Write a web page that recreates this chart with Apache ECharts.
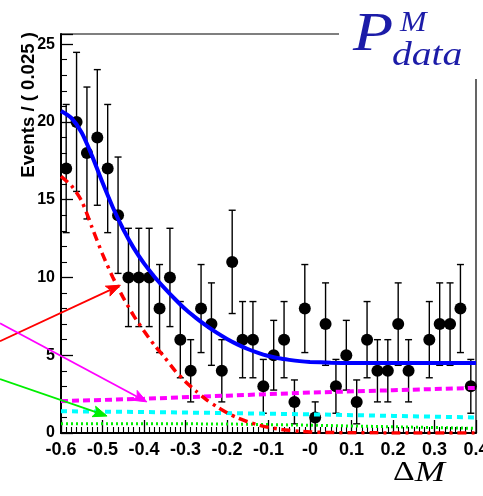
<!DOCTYPE html>
<html><head><meta charset="utf-8">
<script src="https://cdn.jsdelivr.net/npm/echarts@6/dist/echarts.min.js"></script>
<style>html,body{margin:0;padding:0;background:#fff}#c{width:483px;height:496px}</style>
</head><body><div id="c"></div>
<script>
// ---- data ----
const binCenters = [-0.5875,-0.5625,-0.5375,-0.5125,-0.4875,-0.4625,-0.4375,-0.4125,-0.3875,-0.3625,
  -0.3375,-0.3125,-0.2875,-0.2625,-0.2375,-0.2125,-0.1875,-0.1625,-0.1375,-0.1125,
  -0.0875,-0.0625,-0.0375,-0.0125,0.0125,0.0375,0.0625,0.0875,0.1125,0.1375,
  0.1625,0.1875,0.2125,0.2375,0.2625,0.2875,0.3125,0.3375,0.3625,0.3875];
const counts = [17,20,18,19,17,14,10,10,10,8,
  10,6,4,8,7,4,11,6,6,3,
  5,6,2,8,1,7,3,5,2,6,
  4,4,7,4,null,6,7,7,8,3];
const errors = [4.12,4.47,4.24,4.36,4.12,3.74,3.16,3.16,3.16,2.83,
  3.16,2.45,2.0,2.83,2.65,2.0,3.32,2.45,2.45,1.73,
  2.24,2.45,1.41,2.83,1.0,2.65,1.73,2.24,1.41,2.45,
  2.0,2.0,2.65,2.0,null,2.45,2.65,2.65,2.83,1.73];

const curveX = [-0.6,-0.575,-0.55,-0.525,-0.5,-0.475,-0.45,-0.425,-0.4,-0.375,-0.35,-0.325,-0.3,-0.275,
  -0.25,-0.225,-0.2,-0.175,-0.15,-0.125,-0.1,-0.075,-0.05,-0.025,0,0.05,0.1,0.15,0.2,0.25,0.3,0.35,0.4];
const totalFit = [20.7,20.25,19.3,17.8,16.1,14.5,13.1,11.9,10.9,10.05,9.3,8.6,7.95,7.4,
  6.9,6.45,6.05,5.7,5.4,5.15,4.95,4.8,4.7,4.62,4.57,4.52,4.5,4.5,4.5,4.5,4.5,4.5,4.5];
const signal = [16.5,15.9,14.9,13.2,11.5,10.0,8.7,7.55,6.55,5.65,4.85,4.0,3.3,2.7,
  2.15,1.7,1.3,0.98,0.72,0.52,0.36,0.25,0.17,0.11,0.07,0.03,0.015,0.01,0.005,0.0,0.0,0.0,0.0];

const bkgX = [-0.6,-0.4,-0.2,0,0.2,0.4];
const bkgMagenta = [2.05,2.2,2.4,2.6,2.75,2.9];
const bkgCyan = [1.4,1.35,1.28,1.2,1.1,1.0];
const bkgGreen = [0.6,0.6,0.58,0.5,0.4,0.3];

const xTickLabels = ['-0.6','-0.5','-0.4','-0.3','-0.2','-0.1','-0','0.1','0.2','0.3','0.4'];
const yTickLabels = ['0','5','10','15','20','25'];

// annotation arrows (data coordinates: tail -> head)
const arrowRed = [[-0.747,5.9],[-0.457,9.5]];
const arrowMagenta = [[-0.747,7.05],[-0.393,2.0]];
const arrowGreen = [[-0.747,3.47],[-0.489,1.09]];

// ---- chart ----
const pairs = (xs, ys) => xs.map((x,i)=>[x, ys[i]]);
const pts = [];
binCenters.forEach((x,i)=>{ if(counts[i]!=null) pts.push([x, counts[i], errors[i]]); });

const chart = echarts.init(document.getElementById('c'), null, {renderer:'canvas'});
const labelFont = {color:'#000', fontFamily:'Liberation Sans', fontWeight:'bold'};

const option = {
  animation:false,
  backgroundColor:'#fff',
  grid:{left:61, right:7, top:34, bottom:63, containLabel:false, outerBoundsMode:'none',
    show:true, borderColor:'#000', borderWidth:1.2, backgroundColor:'transparent'},
  xAxis:{type:'value', min:-0.6, max:0.4, interval:0.1,
    axisLine:{onZero:false, lineStyle:{color:'#000', width:2}},
    axisTick:{inside:true, length:13, lineStyle:{color:'#000', width:1.3}},
    minorTick:{show:true, splitNumber:8, length:6, lineStyle:{color:'#000', width:1.1}},
    splitLine:{show:false}, minorSplitLine:{show:false},
    axisLabel:Object.assign({fontSize:18, margin:8, formatter:v=>{const k=Math.round((v+0.6)/0.1); return xTickLabels[k]!==undefined?xTickLabels[k]:'';}}, labelFont)
  },
  yAxis:{type:'value', min:0, max:25.65, interval:5,
    axisLine:{onZero:false, lineStyle:{color:'#000', width:2}},
    axisTick:{inside:true, length:12, lineStyle:{color:'#000', width:1.3}},
    minorTick:{show:true, splitNumber:5, length:6, lineStyle:{color:'#000', width:1.1}},
    splitLine:{show:false}, minorSplitLine:{show:false},
    axisLabel:Object.assign({fontSize:16, margin:6, formatter:v=>{const k=Math.round(v/5); return Math.abs(v-k*5)<1e-6?yTickLabels[k]:'';}}, labelFont)
  },
  series:[
    {type:'custom', name:'errors', data:pts, z:2,
      renderItem:(params, api)=>{
        const x=api.value(0), y=api.value(1), e=api.value(2);
        const t=api.coord([x,y+e]), b=api.coord([x,Math.max(0,y-e)]);
        const st={stroke:'#000', lineWidth:1.4};
        return {type:'group', children:[
          {type:'line', shape:{x1:t[0],y1:t[1],x2:b[0],y2:b[1]}, style:st},
          {type:'line', shape:{x1:t[0]-3.5,y1:t[1],x2:t[0]+3.5,y2:t[1]}, style:st},
          {type:'line', shape:{x1:b[0]-3.5,y1:b[1],x2:b[0]+3.5,y2:b[1]}, style:st}
        ]};
      }},
    {type:'scatter', name:'data', data:pts.map(p=>[p[0],p[1]]), symbol:'circle', symbolSize:12,
      itemStyle:{color:'#000', opacity:1}, z:3},
    {type:'line', name:'green', data:pairs(bkgX,bkgGreen), showSymbol:false, symbol:'none', z:4,
      lineStyle:{color:'#00ee00', width:3, type:[2,3]}},
    {type:'line', name:'cyan', data:pairs(bkgX,bkgCyan), showSymbol:false, symbol:'none', z:4,
      lineStyle:{color:'#00ffff', width:4, type:[6,5]}},
    {type:'line', name:'magenta', data:pairs(bkgX,bkgMagenta), showSymbol:false, symbol:'none', z:4,
      lineStyle:{color:'#ff00ff', width:4, type:[7,4]}},
    {type:'line', name:'signal', data:pairs(curveX,signal), showSymbol:false, symbol:'none', z:5,
      smooth:0.25,
      lineStyle:{color:'#ff0000', width:3.5, type:[9,5,3,5]}},
    {type:'line', name:'total', data:pairs(curveX,totalFit), showSymbol:false, symbol:'none', z:6,
      smooth:0.25,
      lineStyle:{color:'#0000ff', width:4}}
  ]
};
chart.setOption(option);

function arrow(def, color){
  const p0 = chart.convertToPixel({gridIndex:0}, def[0]);
  const p1 = chart.convertToPixel({gridIndex:0}, def[1]);
  const dx=p1[0]-p0[0], dy=p1[1]-p0[1], L=Math.hypot(dx,dy), ux=dx/L, uy=dy/L;
  const hl=14, hw=5.5;
  const bx=p1[0]-ux*hl, by=p1[1]-uy*hl;
  const nx=bx+ux*3, ny=by+uy*3;
  return [
    {type:'line', z:50, shape:{x1:p0[0],y1:p0[1],x2:nx,y2:ny}, style:{stroke:color, lineWidth:1.8}},
    {type:'polygon', z:50, shape:{points:[[p1[0],p1[1]],[bx-uy*hw,by+ux*hw],[nx,ny],[bx+uy*hw,by-ux*hw]]},
      style:{fill:color, stroke:color, lineWidth:1}}
  ];
}

const serif = 'Liberation Serif';
const titleBlue = '#1c1ca8';
chart.setOption({graphic:[
  ...arrow(arrowRed,'#ff0000'),
  ...arrow(arrowMagenta,'#ff00ff'),
  ...arrow(arrowGreen,'#00ee00'),
  {type:'rect', z:60, shape:{x:339, y:0, width:144, height:79}, style:{fill:'#fff'}},
  {type:'text', z:61, x:353, y:36, scaleX:1.22,
    style:{x:0, y:0, text:'P', font:'italic 54px '+serif, fill:titleBlue, verticalAlign:'middle'}},
  {type:'text', z:61, x:400, y:23, scaleX:1.1,
    style:{x:0, y:0, text:'M', font:'italic 29px '+serif, fill:titleBlue, verticalAlign:'middle'}},
  {type:'text', z:61, x:392, y:56, scaleX:1.2,
    style:{x:0, y:0, text:'data', font:'italic 33px '+serif, fill:titleBlue, verticalAlign:'middle'}},
  {type:'text', z:61, x:29, y:32, rotation:Math.PI/2,
    style:{x:0, y:0, text:'Events / ( 0.025 )', font:'bold 18.6px Liberation Sans', fill:'#000', align:'right', verticalAlign:'middle'}},
  {type:'text', z:61, x:393, y:473, scaleX:1.25,
    style:{x:0, y:0, text:'{d|\u0394}{m|M}', verticalAlign:'middle',
    rich:{d:{fontFamily:serif, fontSize:27, fill:'#000', color:'#000'}, m:{fontFamily:serif, fontStyle:'italic', fontSize:29, fill:'#000', color:'#000'}}}}
]});
</script>
</body></html>
